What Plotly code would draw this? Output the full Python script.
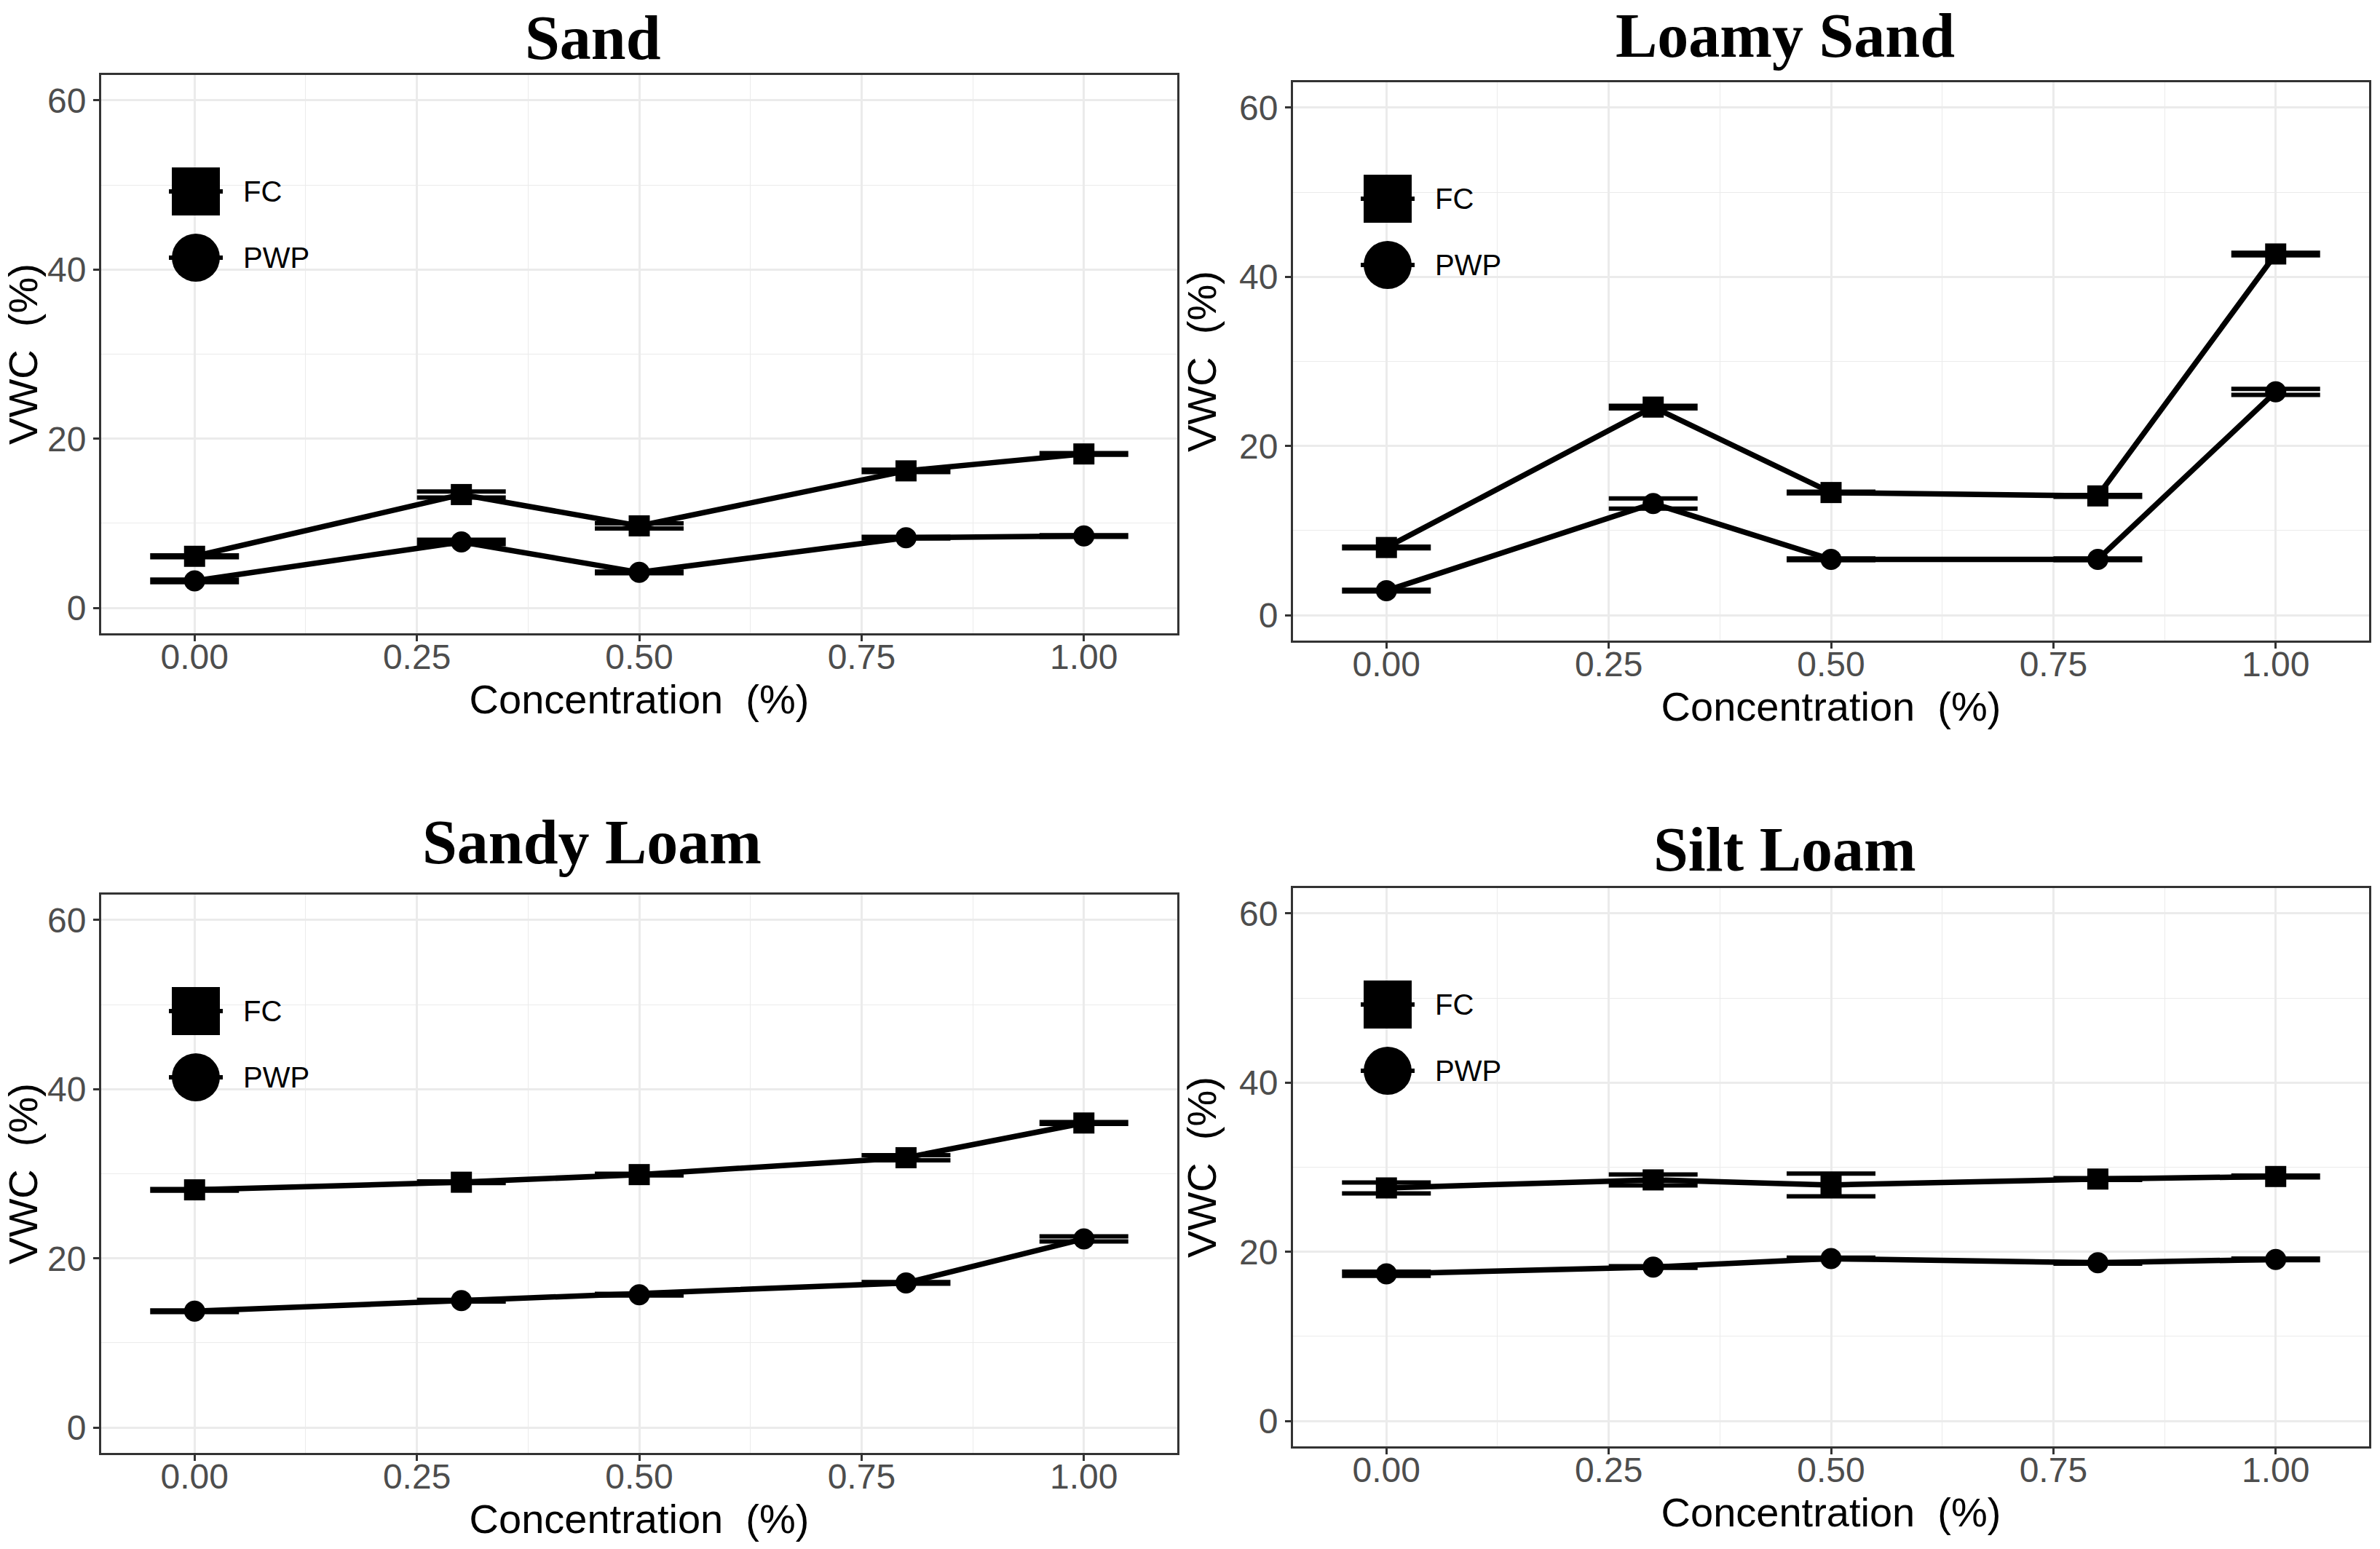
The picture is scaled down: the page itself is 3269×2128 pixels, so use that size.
import plotly.graph_objects as go

# ---------------- data ----------------
conc = [0.0, 0.3, 0.5, 0.8, 1.0]

panel_titles = ["Sand", "Loamy Sand", "Sandy Loam", "Silt Loam"]

sand_fc = [6.1, 13.4, 9.7, 16.2, 18.2]
sand_fc_err = [0.1, 0.35, 0.3, 0.15, 0.1]
sand_pwp = [3.2, 7.8, 4.2, 8.3, 8.5]
sand_pwp_err = [0.15, 0.25, 0.1, 0.1, 0.1]

loamy_sand_fc = [8.0, 24.6, 14.5, 14.1, 42.7]
loamy_sand_fc_err = [0.1, 0.15, 0.1, 0.1, 0.15]
loamy_sand_pwp = [2.9, 13.2, 6.6, 6.6, 26.4]
loamy_sand_pwp_err = [0.1, 0.6, 0.1, 0.1, 0.35]

sandy_loam_fc = [28.1, 29.0, 29.9, 31.9, 36.0]
sandy_loam_fc_err = [0.1, 0.1, 0.1, 0.3, 0.1]
sandy_loam_pwp = [13.75, 15.0, 15.7, 17.1, 22.3]
sandy_loam_pwp_err = [0.1, 0.1, 0.1, 0.1, 0.3]

silt_loam_fc = [27.55, 28.5, 27.9, 28.6, 28.9]
silt_loam_fc_err = [0.65, 0.65, 1.35, 0.1, 0.1]
silt_loam_pwp = [17.4, 18.2, 19.2, 18.7, 19.1]
silt_loam_pwp_err = [0.25, 0.1, 0.1, 0.1, 0.1]

series_names = ["FC", "PWP"]
x_ticks = [0.0, 0.25, 0.5, 0.75, 1.0]
x_tick_labels = ["0.00", "0.25", "0.50", "0.75", "1.00"]
y_ticks = [0, 20, 40, 60]
x_title = "Concentration\u00a0 (%)"
y_title = "VWC\u00a0 (%)"

panels = [
    (sand_fc, sand_fc_err, sand_pwp, sand_pwp_err),
    (loamy_sand_fc, loamy_sand_fc_err, loamy_sand_pwp, loamy_sand_pwp_err),
    (sandy_loam_fc, sandy_loam_fc_err, sandy_loam_pwp, sandy_loam_pwp_err),
    (silt_loam_fc, silt_loam_fc_err, silt_loam_pwp, silt_loam_pwp_err),
]

# ---------------- layout geometry ----------------
W, H = 3269, 2128
boxes = [  # left, right, top, bottom in px
    (139, 1617, 103, 870),
    (1776, 3254, 113, 880),
    (139, 1617, 1229, 1996),
    (1776, 3254, 1220, 1987),
]
title_pos = [(814, 52), (2452, 49), (813, 1157), (2451, 1167)]

SANS = "Liberation Sans, Arial, sans-serif"
SERIF = "Liberation Serif, Times New Roman, serif"
GRID = "#EBEBEB"
DARK = "#333333"

fig = go.Figure()
layout = dict(
    width=W, height=H,
    margin=dict(l=0, r=0, t=0, b=0),
    paper_bgcolor="white", plot_bgcolor="white",
    showlegend=False,
    shapes=[], annotations=[],
)

for i, (box, vals) in enumerate(zip(boxes, panels)):
    l, r, t, b = box
    n = "" if i == 0 else str(i + 1)
    xa, ya = "x" + n, "y" + n
    fc, fce, pwp, pwpe = vals
    for name, yv, ev, sym in [(series_names[0], fc, fce, "square"),
                              (series_names[1], pwp, pwpe, "circle")]:
        fig.add_trace(go.Scatter(
            x=conc, y=yv, name=name, mode="lines+markers",
            xaxis=xa, yaxis=ya,
            line=dict(color="black", width=7.5),
            marker=dict(symbol=sym, size=29, color="black"),
            error_y=dict(type="data", array=ev, visible=True,
                         color="black", thickness=6, width=61),
        ))
    axis_common = dict(
        showline=True, mirror=True, linecolor=DARK, linewidth=3,
        ticks="outside", ticklen=8, tickwidth=3, tickcolor=DARK,
        showgrid=True, gridcolor=GRID, gridwidth=3,
        zeroline=False, automargin=False,
        tickfont=dict(family=SANS, size=48, color="#4D4D4D"),
    )
    layout["xaxis" + n] = dict(
        axis_common,
        domain=[l / W, r / W], anchor=ya,
        range=[-0.105, 1.105],
        tickvals=x_ticks, ticktext=x_tick_labels,
        ticklabelstandoff=-20,
        minor=dict(tickvals=[0.125, 0.375, 0.625, 0.875], showgrid=True,
                   gridcolor=GRID, gridwidth=1.3, ticks=""),
        title=dict(text=x_title, font=dict(family=SANS, size=56, color="black"),
                   standoff=6),
    )
    layout["yaxis" + n] = dict(
        axis_common,
        domain=[1 - b / H, 1 - t / H], anchor=xa,
        range=[-3, 63],
        tickvals=y_ticks,
        minor=dict(tickvals=[10, 30, 50], showgrid=True,
                   gridcolor=GRID, gridwidth=1.3, ticks=""),
        title=dict(text=y_title, font=dict(family=SANS, size=56, color="black"),
                   standoff=14),
    )
    # panel title
    tx, ty = title_pos[i]
    layout["annotations"].append(dict(
        text="<b>%s</b>" % panel_titles[i], xref="paper", yref="paper",
        x=tx / W, y=1 - ty / H, xanchor="center", yanchor="middle",
        showarrow=False, borderpad=0,
        font=dict(family=SERIF, size=86, color="black"),
    ))
    # in-panel legend (background box + glyphs + labels)
    xd, yd = xa + " domain", ya + " domain"
    pw, ph = r - l, b - t
    layout["shapes"].append(dict(
        type="rect", xref=xd, yref=yd, x0=70 / pw, x1=296 / pw,
        y0=1 - 312 / ph, y1=1 - 99 / ph,
        fillcolor="white", line=dict(width=0), layer="below"))
    cx = 130 / pw
    sx, sy = 33 / pw, 33 / ph
    lx = 37 / pw
    for yc_px, kind, label in [(160, "rect", series_names[0]),
                               (251, "circle", series_names[1])]:
        yc = 1 - yc_px / ph
        layout["shapes"].append(dict(
            type=kind, xref=xd, yref=yd, x0=cx - sx, x1=cx + sx,
            y0=yc - sy, y1=yc + sy, fillcolor="black",
            line=dict(width=0), layer="above"))
        layout["shapes"].append(dict(
            type="line", xref=xd, yref=yd, x0=cx - lx, x1=cx + lx,
            y0=yc, y1=yc, line=dict(color="black", width=6), layer="above"))
        layout["annotations"].append(dict(
            text=label, xref=xd, yref=yd, x=193 / pw, y=yc,
            xanchor="left", yanchor="middle", showarrow=False,
            font=dict(family=SANS, size=40, color="black")))

fig.update_layout(**layout)
fig.write_html("out.html",
               config={"displayModeBar": False},
               post_script="document.body.style.margin='0';"
                           "document.body.style.overflow='hidden';")
